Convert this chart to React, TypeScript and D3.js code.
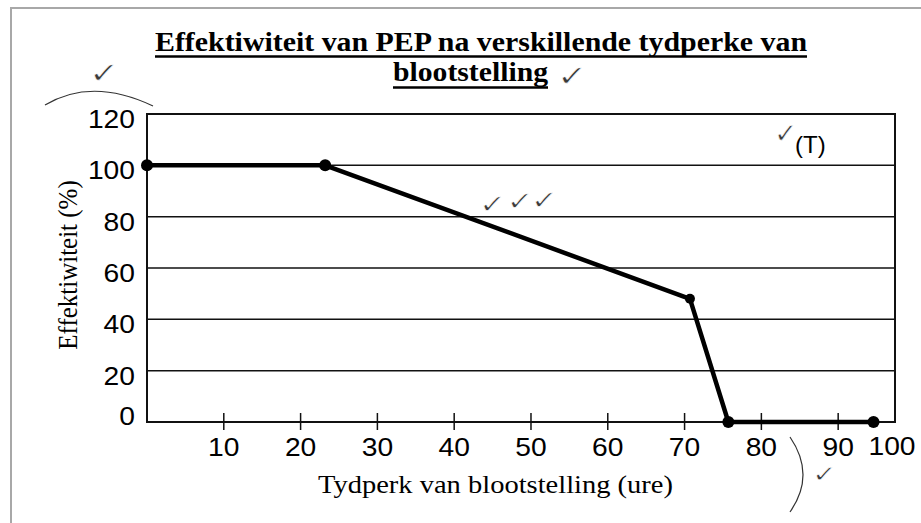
import React from "react";
import * as d3 from "d3";

// ---- data ----
const hours = [0, 23.2, 70.7, 75.7, 94.6];
const effectiveness = [100, 100, 48, 0, 0];
const yTicks = [0, 20, 40, 60, 80, 100, 120];
const xTicks = [10, 20, 30, 40, 50, 60, 70, 80, 90];
const xEndLabel = "100";
const titleLines = ["Effektiwiteit van PEP na verskillende tydperke van", "blootstelling"];
const xLabel = "Tydperk van blootstelling (ure)";
const yLabel = "Effektiwiteit (%)";
const markLabel = "(T)";
const CHECK = "\u2713";

const W = 921;
const H = 523;
const SX = 1.13;
const SANS = "'Liberation Sans', Arial, sans-serif";
const SERIF = "'Liberation Serif', 'Times New Roman', serif";
const CHECK_FONT = "'DejaVu Sans', sans-serif";

export default function App() {
  const x = d3.scaleLinear().domain([0, 97.4]).range([147, 895]);
  const y = d3.scaleLinear().domain([0, 120]).range([422, 114]);
  const pts = hours.map((h, i) => [h, effectiveness[i]] as [number, number]);
  const line = d3
    .line<[number, number]>()
    .x((d) => x(d[0]))
    .y((d) => y(d[1]));

  const checkProps = {
    fontFamily: CHECK_FONT,
    fill: "#3a3a3a",
    stroke: "#fff",
    strokeWidth: 0.7,
    paintOrder: "fill",
  } as any;

  const check = (cx: number, cy: number, size = 29) => (
    <text transform={`translate(${cx},${cy}) scale(1.25,1)`} fontSize={size} {...checkProps}>
      {CHECK}
    </text>
  );

  return (
    <svg
      width={W}
      height={H}
      style={{ position: "absolute", left: 0, top: 0, background: "#fff" }}
    >
      <rect x={0} y={0} width={W} height={H} fill="#fff" />
      {/* outer frame */}
      <rect x={11} y={8} width={1000} height={1000} fill="none" stroke="#a8a8a8" strokeWidth={2} />

      {/* title */}
      <text
        x={155}
        y={51}
        fontFamily={SERIF}
        fontWeight="bold"
        fontSize={26.5}
        textLength={652}
        lengthAdjust="spacingAndGlyphs"
        fill="#000"
      >
        {titleLines[0]}
      </text>
      <line x1={155} x2={807} y1={56.5} y2={56.5} stroke="#000" strokeWidth={2.5} />
      <text
        x={393}
        y={81}
        fontFamily={SERIF}
        fontWeight="bold"
        fontSize={26.5}
        textLength={155}
        lengthAdjust="spacingAndGlyphs"
        fill="#000"
      >
        {titleLines[1]}
      </text>
      <line x1={393} x2={548} y1={87.5} y2={87.5} stroke="#000" strokeWidth={2.5} />

      {/* gridlines */}
      {yTicks
        .filter((v) => v > 0 && v < 120)
        .map((v) => (
          <line key={v} x1={x(0)} x2={x(97.4)} y1={y(v)} y2={y(v)} stroke="#111" strokeWidth={1.5} />
        ))}
      {/* plot box */}
      <rect
        x={x(0)}
        y={y(120)}
        width={x(97.4) - x(0)}
        height={y(0) - y(120)}
        fill="none"
        stroke="#111"
        strokeWidth={2}
      />
      {/* x ticks */}
      {xTicks.map((v) => (
        <line key={v} x1={x(v)} x2={x(v)} y1={y(0) - 9} y2={y(0) + 8} stroke="#111" strokeWidth={1.5} />
      ))}
      {xTicks.map((v) => (
        <text
          key={"l" + v}
          transform={`translate(${x(v)},456) scale(${SX},1)`}
          textAnchor="middle"
          fontFamily={SANS}
          fontSize={25}
          fill="#000"
        >
          {String(v)}
        </text>
      ))}
      <text
        transform={`translate(${x(97.4) - 3},455) scale(${SX},1)`}
        textAnchor="middle"
        fontFamily={SANS}
        fontSize={25}
        fill="#000"
      >
        {xEndLabel}
      </text>
      {/* y tick labels */}
      {yTicks.map((v) => (
        <text
          key={"y" + v}
          transform={`translate(135,${Math.min(y(v) + 14, y(0) + 3)}) scale(${SX},1)`}
          textAnchor="end"
          fontFamily={SANS}
          fontSize={25}
          fill="#000"
        >
          {String(v)}
        </text>
      ))}

      {/* data line */}
      <path d={line(pts) || ""} fill="none" stroke="#000" strokeWidth={4.5} strokeLinejoin="round" />
      {pts.map((p, i) => (
        <circle key={i} cx={x(p[0])} cy={y(p[1])} r={i === 2 ? 5 : 6} fill="#000" />
      ))}

      {/* axis labels */}
      <text
        x={318}
        y={493}
        fontFamily={SERIF}
        fontSize={25}
        textLength={355}
        lengthAdjust="spacingAndGlyphs"
        fill="#000"
      >
        {xLabel}
      </text>
      <text
        transform={`translate(77,265) rotate(-90) scale(1,${SX})`}
        textAnchor="middle"
        fontFamily={SERIF}
        fontSize={25}
        fill="#000"
      >
        {yLabel}
      </text>

      {/* marker annotations */}
      <text transform="translate(774,143)" fontSize={28} {...checkProps}>
        <tspan>{CHECK}</tspan>
        <tspan x={21} y={10} fontFamily={SANS} fontSize={24} fill="#000" stroke="none">
          {markLabel}
        </tspan>
      </text>
      {check(89, 83)}
      {check(557, 86)}
      <text transform="translate(479,211) scale(1.25,1)" fontSize={26} {...checkProps}>
        <tspan x={0} dy={2}>{CHECK}</tspan>
        <tspan x={22} dy={-3}>{CHECK}</tspan>
        <tspan x={41.5} dy={-1}>{CHECK}</tspan>
      </text>
      {check(812, 482, 24)}

      {/* braces */}
      <path d="M45,105 Q92,77 153,106" fill="none" stroke="#333" strokeWidth={1.2} />
      <path d="M790,437 Q816,475 790,512" fill="none" stroke="#333" strokeWidth={1.2} />
    </svg>
  );
}
